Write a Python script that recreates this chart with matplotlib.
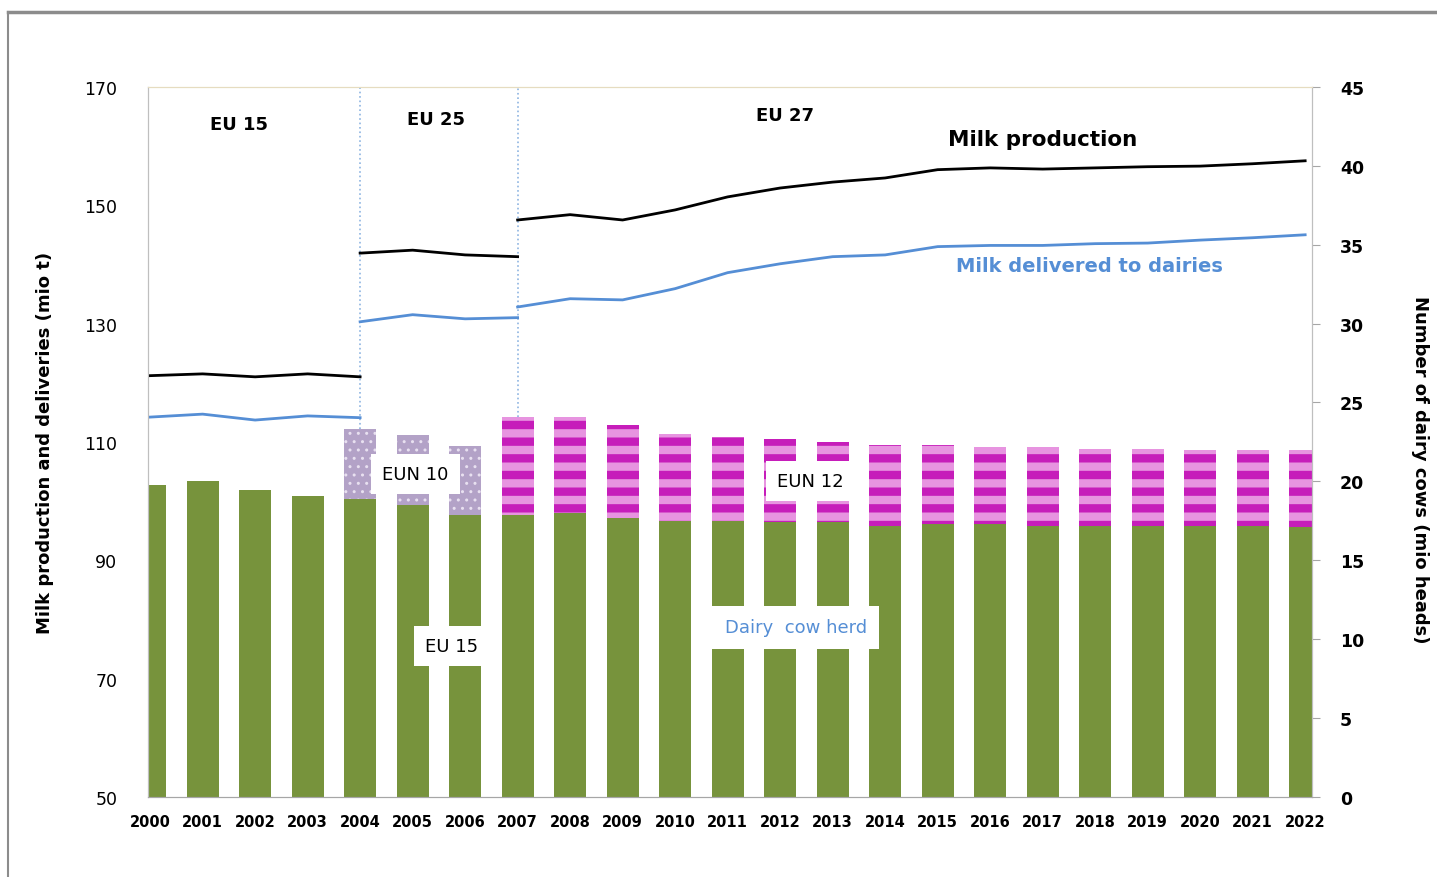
import numpy as np
import matplotlib.pyplot as plt
from matplotlib.lines import Line2D

years = [str(y) for y in range(2000, 2023)]

# dairy cow herd (mio heads), right axis
eu15_cows = [19.8, 20.0, 19.45, 19.1, 18.9, 18.5, 17.9, 17.9, 18.0, 17.7, 17.5, 17.5,
             17.4, 17.4, 17.2, 17.3, 17.3, 17.2, 17.2, 17.2, 17.15, 17.15, 17.1]
eun10_cows = [0, 0, 0, 0, 4.4, 4.45, 4.35, 0, 0, 0, 0, 0,
              0, 0, 0, 0, 0, 0, 0, 0, 0, 0, 0]
eun12_cows = [0, 0, 0, 0, 0, 0, 0, 6.2, 6.1, 5.9, 5.5, 5.3,
              5.3, 5.1, 5.1, 5.0, 4.9, 5.0, 4.85, 4.85, 4.85, 4.85, 4.9]

# milk production / deliveries (mio t), left axis, one segment per EU scope
prod_eu15 = [121.2, 121.5, 121.0, 121.5, 121.0]
prod_eu25 = [141.9, 142.4, 141.6, 141.3]
prod_eu27 = [147.5, 148.4, 147.5, 149.2, 151.4, 152.9, 153.9, 154.6, 156.0, 156.3,
             156.1, 156.3, 156.5, 156.6, 157.0, 157.5]
deliv_eu15 = [114.2, 114.7, 113.7, 114.4, 114.1]
deliv_eu25 = [130.3, 131.5, 130.8, 131.0]
deliv_eu27 = [132.8, 134.2, 134.0, 135.9, 138.6, 140.1, 141.3, 141.6, 143.0, 143.2,
              143.2, 143.5, 143.6, 144.1, 144.5, 145.0]

x = np.arange(len(years))
green = '#77933C'
blue = '#558ED5'

fig = plt.figure(figsize=(14.37, 8.78), dpi=100)
ax = fig.add_axes([0.103, 0.091, 0.81, 0.809])
ax2 = ax.twinx()
ax.set_zorder(ax2.get_zorder() + 1)
ax.patch.set_visible(False)

# bars
w = 0.61
ax2.bar(x, eu15_cows, w, color=green, linewidth=0)
b10 = ax2.bar(x, eun10_cows, w, bottom=eu15_cows, facecolor='#B3A2C7',
              edgecolor='#E8E0F0', hatch='..', linewidth=0)
plt.rcParams['hatch.linewidth'] = 6
b12 = ax2.bar(x, eun12_cows, w, bottom=eu15_cows, facecolor='#E794E0',
              edgecolor='#C61DBA', hatch='-', linewidth=0)
for p in b12:
    if hasattr(p, 'set_hatch_linewidth'):
        p.set_hatch_linewidth(6)
for p in b10:
    if hasattr(p, 'set_hatch_linewidth'):
        p.set_hatch_linewidth(1.0)

tot = np.array(eu15_cows) + np.array(eun10_cows) + np.array(eun12_cows)
ax2.vlines([4, 7], [tot[4], tot[7]], 45, colors='#8DB4E2', linestyles=':', linewidth=1.2)

# lines
ax.plot(x[0:5], prod_eu15, color='black', lw=2)
ax.plot(x[4:8], prod_eu25, color='black', lw=2)
ax.plot(x[7:], prod_eu27, color='black', lw=2)
ax.plot(x[0:5], deliv_eu15, color=blue, lw=2)
ax.plot(x[4:8], deliv_eu25, color=blue, lw=2)
ax.plot(x[7:], deliv_eu27, color=blue, lw=2)

# limits & ticks
ax.set_xlim(-0.04, 22.13)
ax.set_ylim(50, 170)
ax2.set_ylim(0, 45)
ax.set_yticks(range(50, 171, 20))
ax2.set_yticks(range(0, 46, 5))
ax.set_xticks(x)
ax.set_xticklabels(years, fontsize=10.5, fontweight='bold')
ax.tick_params(axis='x', length=0, pad=12)
ax.tick_params(axis='y', length=0, pad=22, labelsize=12.5)
ax2.tick_params(axis='y', length=6, pad=14, labelsize=12.5, color='#A6A6A6')
for t in ax2.get_yticklabels():
    t.set_fontweight('bold')
for a in (ax, ax2):
    a.spines['left'].set_color('#BFBFBF')
    a.spines['right'].set_color('#BFBFBF')
    a.spines['bottom'].set_color('#A6A6A6')
    a.spines['top'].set_color('#E6DCC0')

ax.set_ylabel('Milk production and deliveries (mio t)', fontsize=13, fontweight='bold', labelpad=22)
ax2.set_ylabel('Number of dairy cows (mio heads)', fontsize=13, fontweight='bold',
               rotation=-90, va='center')
ax2.yaxis.set_label_coords(1.093, 0.462)

# annotations
ax.text(1.7, 163.7, 'EU 15', fontsize=13, fontweight='bold', ha='center', va='center')
ax.text(5.45, 164.6, 'EU 25', fontsize=13, fontweight='bold', ha='center', va='center')
ax.text(12.1, 165.3, 'EU 27', fontsize=13, fontweight='bold', ha='center', va='center')
ax.text(17.0, 161.2, 'Milk production', fontsize=15.5, fontweight='bold', ha='center', va='center')
ax.text(17.9, 139.75, 'Milk delivered to dairies', fontsize=14, fontweight='bold',
        color=blue, ha='center', va='center')
box = dict(facecolor='white', edgecolor='none', pad=8)
ax.text(5.05, 104.6, 'EUN 10', fontsize=13, ha='center', va='center', bbox=box)
ax.text(12.58, 103.4, 'EUN 12', fontsize=13, ha='center', va='center', bbox=box)
ax.text(5.74, 75.5, 'EU 15', fontsize=13, ha='center', va='center', bbox=box)
ax.text(12.3, 78.7, 'Dairy  cow herd', fontsize=13, color=blue, ha='center', va='center',
        bbox=dict(facecolor='white', edgecolor='none', pad=9))

# outer frame
fig.add_artist(Line2D([0.0056, 1.0], [0.985, 0.985], color='#8C8C8C', lw=2.5, transform=fig.transFigure))
fig.add_artist(Line2D([0.0056, 0.0056], [0.0, 0.985], color='#8C8C8C', lw=1.5, transform=fig.transFigure))

fig.savefig('out.png', dpi=100)
